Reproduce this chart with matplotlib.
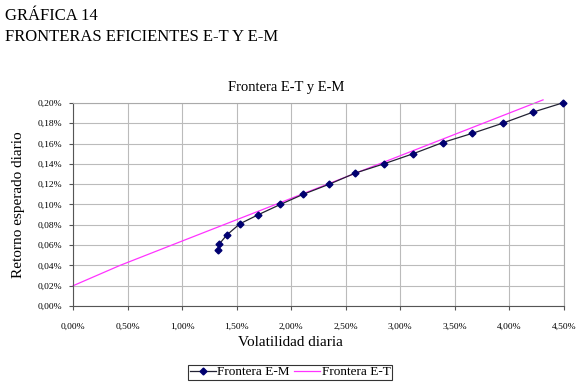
import numpy as np
import matplotlib.pyplot as plt
from matplotlib.ticker import FuncFormatter

# Frontera E-M (volatilidad %, retorno %)
em_vol = [1.33, 1.34, 1.41, 1.53, 1.70, 1.90, 2.11, 2.35, 2.59, 2.85, 3.12, 3.39, 3.66, 3.94, 4.22, 4.49]
em_ret = [0.055, 0.061, 0.070, 0.081, 0.090, 0.100, 0.110, 0.120, 0.131, 0.140, 0.150, 0.161, 0.170, 0.180, 0.191, 0.200]

# Frontera E-T
et_vol = [0.0, 0.43, 1.0, 1.5, 2.0, 2.5, 3.0, 3.5, 4.0, 4.31]
et_ret = [0.020, 0.040, 0.064, 0.085, 0.106, 0.127, 0.148, 0.169, 0.190, 0.203]

xticks = np.arange(0, 4.51, 0.5)
yticks = np.arange(0, 0.201, 0.02)

plt.rcParams['font.family'] = ['Liberation Serif', 'DejaVu Serif']

fig = plt.figure(figsize=(5.8, 3.84), dpi=100)
ax = fig.add_axes([0.126, 0.203, 0.846, 0.529])

fig.text(0.008, 0.958, "GRÁFICA 14", fontsize=12, va='center', ha='left')
fig.text(0.008, 0.903, "FRONTERAS EFICIENTES E-T Y E-M", fontsize=12, va='center', ha='left')

ax.plot(em_vol, em_ret, color='#222233', lw=0.9, marker='D', ms=3.5,
        mfc='#000070', mec='#000070', label='Frontera E-M', zorder=3, clip_on=False)
ax.plot(et_vol, et_ret, color='#ff33ff', lw=0.9, label='Frontera E-T', zorder=2, clip_on=False)

ax.set_xlim(0, 4.5)
ax.set_ylim(0, 0.2)
ax.set_xticks(xticks)
ax.set_yticks(yticks)
ax.xaxis.set_major_formatter(FuncFormatter(lambda v, p: f"{v:.2f}%".replace('.', ',')))
ax.yaxis.set_major_formatter(FuncFormatter(lambda v, p: f"{v:.2f}%".replace('.', ',')))
ax.tick_params(labelsize=6.8, length=3, color='#555555')
ax.tick_params(axis='x', pad=9)
ax.tick_params(axis='y', pad=5)
ax.grid(True, color='#bbbbbb', lw=0.8)
ax.set_axisbelow(True)
for s in ['left', 'bottom']:
    ax.spines[s].set_color('#555555')
for s in ['top', 'right']:
    ax.spines[s].set_color('#aaaaaa')

fig.text(0.493, 0.771, "Frontera E-T y E-M", fontsize=10.5, ha='center', va='center')
fig.text(0.50, 0.109, "Volatilidad diaria", fontsize=11, ha='center', va='center')
ax.set_ylabel("Retorno esperado diario", fontsize=11, labelpad=9)

leg = fig.legend(loc='center', bbox_to_anchor=(0.50, 0.031), ncol=2, fontsize=9.5,
                 frameon=True, fancybox=False, edgecolor='black', handlelength=2.0,
                 handletextpad=0.1, columnspacing=0.3, borderpad=0.1, borderaxespad=0)
leg.get_frame().set_linewidth(0.8)

fig.savefig("out.png", dpi=100)
